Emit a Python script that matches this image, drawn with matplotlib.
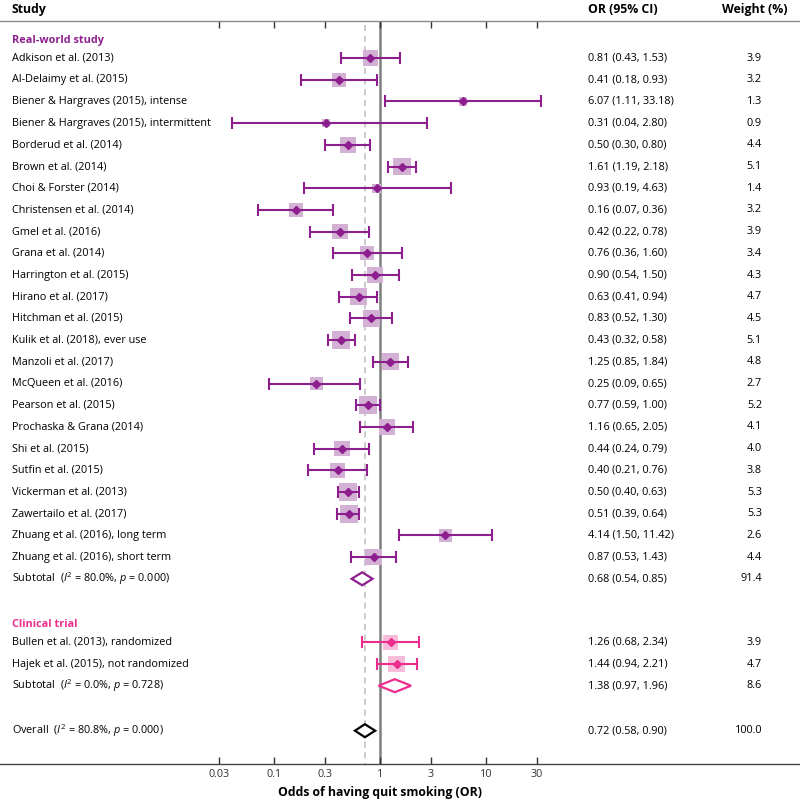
import numpy as np
import matplotlib
matplotlib.use("Agg")
import matplotlib.pyplot as plt
from matplotlib.patches import Polygon

plt.rcParams['font.family'] = ['Open Sans', 'DejaVu Sans']
plt.rcParams['mathtext.fontset'] = 'custom'
plt.rcParams['mathtext.rm'] = 'Open Sans'
plt.rcParams['mathtext.it'] = 'Open Sans:italic'

# ---- data ----
rw_studies = ["Adkison et al. (2013)", "Al-Delaimy et al. (2015)",
              "Biener & Hargraves (2015), intense", "Biener & Hargraves (2015), intermittent",
              "Borderud et al. (2014)", "Brown et al. (2014)", "Choi & Forster (2014)",
              "Christensen et al. (2014)", "Gmel et al. (2016)", "Grana et al. (2014)",
              "Harrington et al. (2015)", "Hirano et al. (2017)", "Hitchman et al. (2015)",
              "Kulik et al. (2018), ever use", "Manzoli et al. (2017)", "McQueen et al. (2016)",
              "Pearson et al. (2015)", "Prochaska & Grana (2014)", "Shi et al. (2015)",
              "Sutfin et al. (2015)", "Vickerman et al. (2013)", "Zawertailo et al. (2017)",
              "Zhuang et al. (2016), long term", "Zhuang et al. (2016), short term"]
rw_or = [0.81, 0.41, 6.07, 0.31, 0.50, 1.61, 0.93, 0.16, 0.42, 0.76, 0.90, 0.63,
         0.83, 0.43, 1.25, 0.25, 0.77, 1.16, 0.44, 0.40, 0.50, 0.51, 4.14, 0.87]
rw_lo = [0.43, 0.18, 1.11, 0.04, 0.30, 1.19, 0.19, 0.07, 0.22, 0.36, 0.54, 0.41,
         0.52, 0.32, 0.85, 0.09, 0.59, 0.65, 0.24, 0.21, 0.40, 0.39, 1.50, 0.53]
rw_hi = [1.53, 0.93, 33.18, 2.80, 0.80, 2.18, 4.63, 0.36, 0.78, 1.60, 1.50, 0.94,
         1.30, 0.58, 1.84, 0.65, 1.00, 2.05, 0.79, 0.76, 0.63, 0.64, 11.42, 1.43]
rw_wt = [3.9, 3.2, 1.3, 0.9, 4.4, 5.1, 1.4, 3.2, 3.9, 3.4, 4.3, 4.7,
         4.5, 5.1, 4.8, 2.7, 5.2, 4.1, 4.0, 3.8, 5.3, 5.3, 2.6, 4.4]
rw_sub = (0.68, 0.54, 0.85, 91.4)
rw_sub_label = "Subtotal  ($I^2$ = 80.0%, $p$ = 0.000)"

ct_studies = ["Bullen et al. (2013), randomized", "Hajek et al. (2015), not randomized"]
ct_or = [1.26, 1.44]
ct_lo = [0.68, 0.94]
ct_hi = [2.34, 2.21]
ct_wt = [3.9, 4.7]
ct_sub = (1.38, 0.97, 1.96, 8.6)
ct_sub_label = "Subtotal  ($I^2$ = 0.0%, $p$ = 0.728)"

overall = (0.72, 0.58, 0.90, 100.0)
overall_label = "Overall  ($I^2$ = 80.8%, $p$ = 0.000)"

ticks = [0.03, 0.1, 0.3, 1, 3, 10, 30]
tick_labels = ["0.03", "0.1", "0.3", "1", "3", "10", "30"]

purple, purple_lt = "#8c1f8d", "#d3b1d5"
pink, pink_lt = "#ec2d8d", "#f7bcd9"

fig = plt.figure(figsize=(8, 8.02), dpi=100)
# axes spans full width; y in pixel-like units (top line 21, bottom line 764)
ax = fig.add_axes([0, 38 / 802, 1, 743 / 802])
ax.set_xscale('log')
ax.set_xlim(10 ** (-380 / 106), 10 ** (420 / 106))
ax.set_ylim(764, 21)
tr = ax.get_yaxis_transform()

step = 21.7
rw_y = 58 + step * np.arange(len(rw_studies))
rw_sub_y = 58 + step * len(rw_studies)
ct_y = rw_sub_y + 63.5 + step * np.arange(len(ct_studies))
ct_sub_y = ct_y[-1] + step
ov_y = ct_sub_y + 45

fs = 7.8


def study_rows(ys, names, ors, los, his, wts, col, col_lt):
    ax.scatter(ors, ys, marker='s', s=np.array(wts) * 31, color=col_lt, lw=0, zorder=2)
    ors = np.array(ors)
    ax.errorbar(ors, ys, xerr=[ors - np.array(los), np.array(his) - ors], fmt='none',
                ecolor=col, elinewidth=1.5, capsize=4, capthick=1.5, zorder=3)
    ax.plot(ors, ys, 'D', color=col, ms=4.5, zorder=4)
    for y, n, o, l, h, w in zip(ys, names, ors, los, his, wts):
        ax.text(0.015, y, n, transform=tr, va='center', fontsize=fs)
        ax.text(0.735, y, f"{o:.2f} ({l:.2f}, {h:.2f})", transform=tr, va='center', fontsize=fs)
        ax.text(0.9525, y, f"{w:.1f}", transform=tr, va='center', ha='right', fontsize=fs)


def summary_row(y, vals, label, col):
    o, l, h, w = vals
    ax.add_patch(Polygon([(l, y), (o, y - 6.5), (h, y), (o, y + 6.5)], closed=True,
                         facecolor='white', edgecolor=col, lw=1.6, zorder=4))
    ax.text(0.015, y, label, transform=tr, va='center', fontsize=fs)
    ax.text(0.735, y, f"{o:.2f} ({l:.2f}, {h:.2f})", transform=tr, va='center', fontsize=fs)
    ax.text(0.9525, y, f"{w:.1f}", transform=tr, va='center', ha='right', fontsize=fs)


# reference lines
ax.axvline(1, color='#7f7f7f', lw=1.8, zorder=1)
ax.plot([overall[0], overall[0]], [25, 764], color='#bdbdbd', lw=1.1, ls=(0, (4, 3)), zorder=1)

ax.text(0.015, rw_y[0] - 18, "Real-world study", transform=tr, va='center',
        fontsize=fs, fontweight='bold', color=purple)
study_rows(rw_y, rw_studies, rw_or, rw_lo, rw_hi, rw_wt, purple, purple_lt)
summary_row(rw_sub_y, rw_sub, rw_sub_label, purple)

ax.text(0.015, ct_y[0] - 18, "Clinical trial", transform=tr, va='center',
        fontsize=fs, fontweight='bold', color=pink)
study_rows(ct_y, ct_studies, ct_or, ct_lo, ct_hi, ct_wt, pink, pink_lt)
summary_row(ct_sub_y, ct_sub, ct_sub_label, pink)

summary_row(ov_y, overall, overall_label, 'black')

# header
hfs = 8.8
ax.text(0.015, 9, "Study", transform=tr, va='center', fontsize=hfs, fontweight='bold', clip_on=False)
ax.text(0.735, 9, "OR (95% CI)", transform=tr, va='center', fontsize=hfs, fontweight='bold', clip_on=False)
ax.text(0.985, 9, "Weight (%)", transform=tr, va='center', ha='right', fontsize=hfs,
        fontweight='bold', clip_on=False)

# axis styling
for s in ['left', 'right']:
    ax.spines[s].set_visible(False)
ax.spines['top'].set_color('#8a8a8a')
ax.spines['bottom'].set_color('#444444')
ax.spines['top'].set_linewidth(1.0)
ax.spines['bottom'].set_linewidth(1.0)
ax.set_xticks(ticks)
ax.set_xticklabels(tick_labels)
ax.minorticks_off()
ax.tick_params(axis='x', direction='in', top=True, length=5, width=1, labelsize=7.8, pad=3.5,
               colors='#333333')
ax.set_yticks([])
ax.text(1, 792, "Odds of having quit smoking (OR)", transform=ax.transData, ha='center',
        va='center', fontsize=8.8, fontweight='bold', clip_on=False)

fig.savefig("out.png", dpi=100)
